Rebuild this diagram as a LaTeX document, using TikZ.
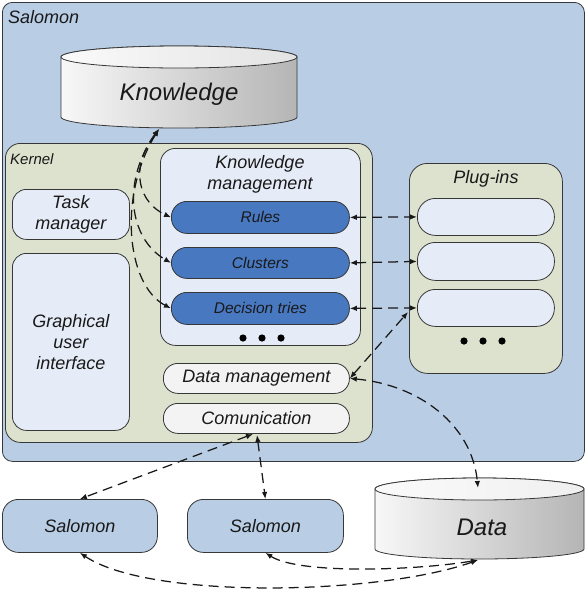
\documentclass[tikz,border=0pt]{standalone}
\usepackage{fontspec}
\setmainfont{Liberation Sans}
\usetikzlibrary{arrows.meta}
\definecolor{outerblue}{RGB}{185,205,229}
\definecolor{kernelgreen}{RGB}{221,226,206}
\definecolor{lightbox}{RGB}{230,236,247}
\definecolor{ruleblue}{RGB}{72,120,192}
\definecolor{pale}{RGB}{243,243,243}
\definecolor{edge}{RGB}{55,55,55}
\definecolor{ink}{RGB}{25,25,25}
\begin{document}
\begin{tikzpicture}[x=1pt,y=-1pt,
  rbox/.style={draw=edge,line width=0.8pt,rectangle,inner sep=0pt,anchor=north west,align=center,text=ink},
  big/.style={font=\fontsize{18}{21}\selectfont\itshape},
  mid/.style={font=\fontsize{15.5}{18}\selectfont\itshape},
  huge/.style={font=\fontsize{24}{28}\selectfont\itshape,text=ink},
  conn/.style={dash pattern=on 10pt off 6pt,line width=1.25pt,draw=ink,{Latex[length=7pt,width=5.5pt]}-{Latex[length=7pt,width=5.5pt]}},
  dot/.style={fill=black,draw=none}]
\useasboundingbox (0,0) rectangle (588,595);
% outer Salomon
\node[rbox,fill=outerblue,rounded corners=10pt,minimum width=582pt,minimum height=459pt] (outer) at (2,2) {};
\node[big,anchor=west,text=ink,inner sep=0pt] (outerlbl) at (8,17) {Salomon};
% Knowledge cylinder
\path[draw=edge,line width=0.8pt,left color=gray!6,right color=gray!58]
  (61,57) -- (61,117) arc[start angle=180,end angle=360,x radius=118pt,y radius=11pt]
  -- (297,57) arc[start angle=0,end angle=180,x radius=118pt,y radius=11pt] -- cycle;
\path[draw=edge,line width=0.8pt,left color=gray!4,right color=gray!22] (179,57) ellipse[x radius=118pt,y radius=11pt];
\node[huge] (know) at (179,94) {Knowledge};
\coordinate (knowb) at (159,129);
% Kernel
\node[rbox,fill=kernelgreen,rounded corners=15pt,minimum width=367pt,minimum height=299pt] (kernel) at (5,143) {};
\node[anchor=west,inner sep=0pt,text=ink,font=\fontsize{15}{18}\selectfont\itshape] (kernellbl) at (10,159) {Kernel};
\node[rbox,big,fill=lightbox,rounded corners=14pt,minimum width=117pt,minimum height=50pt] (task) at (12,189) {Task\\manager};
\node[rbox,big,fill=lightbox,rounded corners=14pt,minimum width=117pt,minimum height=177pt] (gui) at (12,253) {Graphical\\user\\interface};
\node[rbox,fill=lightbox,rounded corners=15pt,minimum width=200pt,minimum height=197pt] (km) at (160,148) {};
\node[big,align=center,text=ink,inner sep=0pt] (kmlbl) at (260,174) {Knowledge\\management};
\node[rbox,mid,fill=ruleblue,rounded corners=15.5pt,minimum width=178pt,minimum height=32pt] (rules) at (171,201) {Rules};
\node[rbox,mid,fill=ruleblue,rounded corners=15.5pt,minimum width=178pt,minimum height=31pt] (clusters) at (171,247) {Clusters};
\node[rbox,mid,fill=ruleblue,rounded corners=15.5pt,minimum width=178pt,minimum height=32pt] (dtries) at (171,292) {Decision tries};
\fill[dot] (243,338) circle (3.6pt) (262,338) circle (3.6pt) (281,338) circle (3.6pt);
\node[rbox,big,fill=pale,rounded corners=14.5pt,minimum width=186pt,minimum height=30pt] (dm) at (163,363) {Data management};
\node[rbox,big,fill=pale,rounded corners=14.5pt,minimum width=186pt,minimum height=30pt] (comm) at (163,403) {Comunication};
% Plug-ins
\node[rbox,fill=kernelgreen,rounded corners=18pt,minimum width=153pt,minimum height=210pt] (plugins) at (409,163) {};
\node[big,text=ink,inner sep=0pt] (pluglbl) at (486,179) {Plug-ins};
\node[rbox,fill=lightbox,rounded corners=18pt,minimum width=137pt,minimum height=37pt] (slota) at (417,198) {};
\node[rbox,fill=lightbox,rounded corners=18pt,minimum width=137pt,minimum height=38pt] (slotb) at (417,242) {};
\node[rbox,fill=lightbox,rounded corners=18pt,minimum width=137pt,minimum height=37pt] (slotc) at (417,289) {};
\fill[dot] (464,341) circle (3.6pt) (483,341) circle (3.6pt) (502,341) circle (3.6pt);
% bottom
\node[rbox,big,fill=outerblue,rounded corners=16pt,minimum width=155pt,minimum height=53pt] (sala) at (2,499) {Salomon};
\node[rbox,big,fill=outerblue,rounded corners=16pt,minimum width=156pt,minimum height=53pt] (salb) at (187,499) {Salomon};
% Data cylinder
\path[draw=edge,line width=0.8pt,left color=gray!6,right color=gray!58]
  (375,489) -- (375,549) arc[start angle=180,end angle=360,x radius=104.5pt,y radius=10pt]
  -- (584,489) arc[start angle=0,end angle=180,x radius=104.5pt,y radius=11pt] -- cycle;
\path[draw=edge,line width=0.8pt,left color=gray!4,right color=gray!12] (479.5,489) ellipse[x radius=104.5pt,y radius=11pt];
\node[huge] (data) at (482,527) {Data};
\coordinate (datatop) at (478,488);
\coordinate (databot) at (478,560);
\coordinate (plugdm) at (408,312);
\coordinate (comma) at (253,434);
\coordinate (commb) at (257,435);
% connectors
\draw[conn] (knowb) .. controls (128,170) and (140,203) .. (rules.west);
\draw[conn] (knowb) .. controls (122,180) and (128,238) .. (clusters.west);
\draw[conn] (knowb) .. controls (118,195) and (126,285) .. (dtries.west);
\draw[conn] (rules.east) -- (slota.west);
\draw[conn] (clusters.east) -- (slotb.west);
\draw[conn] (dtries.east) -- (slotc.west);
\draw[conn] (dm.east) -- (plugdm);
\draw[conn] (dm.east) .. controls (420,385) and (472,425) .. (datatop);
\draw[conn] (comma) -- (sala.north);
\draw[conn] (commb) -- (salb.north);
\draw[conn] (salb.south) .. controls (300,575) and (420,570) .. (databot);
\draw[conn] (sala.south) .. controls (150,600) and (380,595) .. (databot);
\end{tikzpicture}
\end{document}
